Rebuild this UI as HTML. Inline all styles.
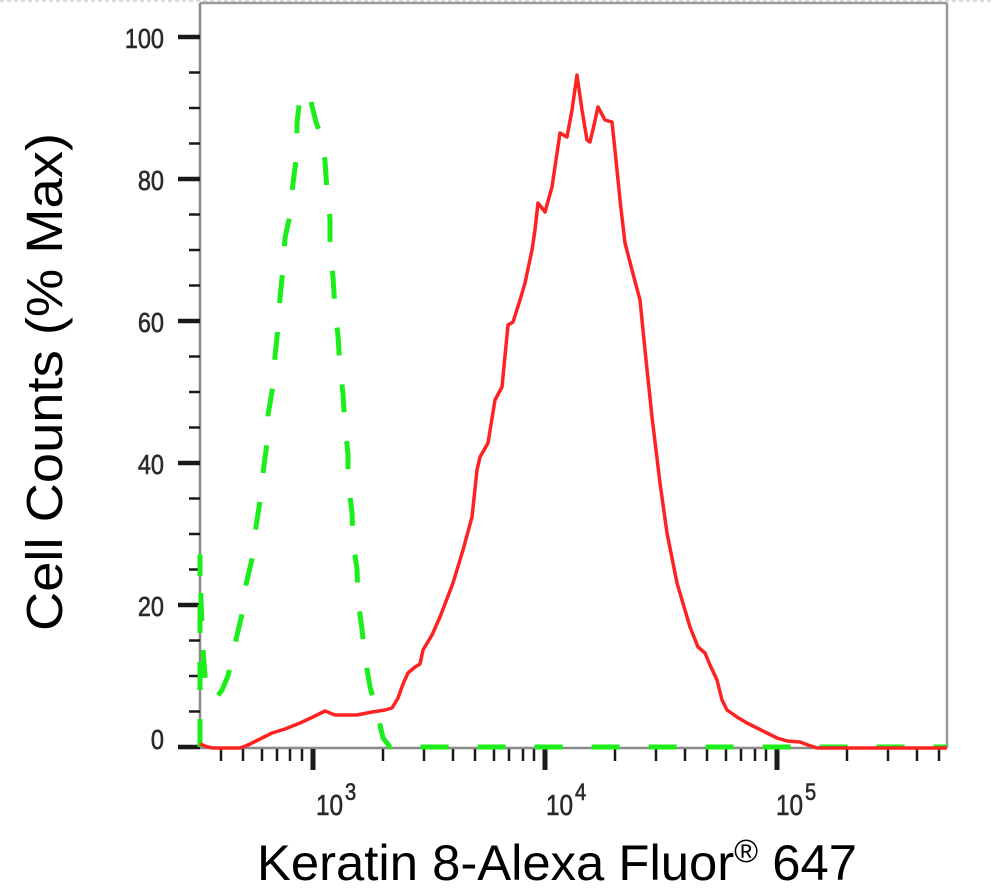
<!DOCTYPE html>
<html>
<head>
<meta charset="utf-8">
<style>
  html, body { margin: 0; padding: 0; background: #ffffff; }
  svg { display: block; }
</style>
</head>
<body>
<svg width="994" height="888" viewBox="0 0 994 888" xmlns="http://www.w3.org/2000/svg">
  <rect x="0" y="0" width="994" height="888" fill="#ffffff"/>
  <!-- light dotted top edge -->
  <line x1="0" y1="1" x2="994" y2="1" stroke="#cfcfcf" stroke-width="1.5" stroke-dasharray="4 3"/>

  <!-- plot frame -->
  <line x1="200" y1="3" x2="947" y2="3" stroke="#9a9a9a" stroke-width="2.5"/>
  <line x1="947" y1="3" x2="947" y2="748" stroke="#9a9a9a" stroke-width="2.5"/>
  <line x1="200" y1="3" x2="200" y2="748" stroke="#8a8a8a" stroke-width="2.5"/>
  <line x1="180" y1="748" x2="947" y2="748" stroke="#8a8a8a" stroke-width="2.5"/>

  <!-- Y ticks -->
  <g stroke="#1a1a1a">
    <line x1="178" y1="37" x2="200" y2="37" stroke-width="4.5"/>
    <line x1="178" y1="179" x2="200" y2="179" stroke-width="4.5"/>
    <line x1="178" y1="321" x2="200" y2="321" stroke-width="4.5"/>
    <line x1="178" y1="463" x2="200" y2="463" stroke-width="4.5"/>
    <line x1="178" y1="605" x2="200" y2="605" stroke-width="4.5"/>
    <line x1="178" y1="747" x2="200" y2="747" stroke-width="4.5"/>
    <g stroke-width="2.5">
      <line x1="189" y1="72.5" x2="200" y2="72.5"/>
      <line x1="189" y1="108" x2="200" y2="108"/>
      <line x1="189" y1="143.5" x2="200" y2="143.5"/>
      <line x1="189" y1="214.5" x2="200" y2="214.5"/>
      <line x1="189" y1="250" x2="200" y2="250"/>
      <line x1="189" y1="285.5" x2="200" y2="285.5"/>
      <line x1="189" y1="356.5" x2="200" y2="356.5"/>
      <line x1="189" y1="392" x2="200" y2="392"/>
      <line x1="189" y1="427.5" x2="200" y2="427.5"/>
      <line x1="189" y1="498.5" x2="200" y2="498.5"/>
      <line x1="189" y1="534" x2="200" y2="534"/>
      <line x1="189" y1="569.5" x2="200" y2="569.5"/>
      <line x1="189" y1="640.5" x2="200" y2="640.5"/>
      <line x1="189" y1="676" x2="200" y2="676"/>
      <line x1="189" y1="711.5" x2="200" y2="711.5"/>
    </g>
  </g>

  <!-- Y tick labels -->
  <g font-family="Liberation Sans, Arial, sans-serif" font-size="28" fill="#2a2a2a" stroke="#2a2a2a" stroke-width="0.6">
    <g transform="translate(164,48) scale(0.84,1)"><text text-anchor="end">100</text></g>
    <g transform="translate(164,190) scale(0.84,1)"><text text-anchor="end">80</text></g>
    <g transform="translate(164,332) scale(0.84,1)"><text text-anchor="end">60</text></g>
    <g transform="translate(164,474) scale(0.84,1)"><text text-anchor="end">40</text></g>
    <g transform="translate(164,616) scale(0.84,1)"><text text-anchor="end">20</text></g>
    <g transform="translate(164,749) scale(0.84,1)"><text text-anchor="end">0</text></g>
  </g>

  <!-- X ticks -->
  <g stroke="#1a1a1a">
    <line x1="313" y1="749" x2="313" y2="770" stroke-width="5"/>
    <line x1="545" y1="749" x2="545" y2="770" stroke-width="5"/>
    <line x1="777" y1="749" x2="777" y2="770" stroke-width="5"/>
    <g stroke-width="2.5">
      <line x1="221" y1="749" x2="221" y2="761"/>
      <line x1="243" y1="749" x2="243" y2="761"/>
      <line x1="262" y1="749" x2="262" y2="761"/>
      <line x1="277" y1="749" x2="277" y2="761"/>
      <line x1="290" y1="749" x2="290" y2="761"/>
      <line x1="302" y1="749" x2="302" y2="761"/>
      <line x1="383" y1="749" x2="383" y2="761"/>
      <line x1="424" y1="749" x2="424" y2="761"/>
      <line x1="453" y1="749" x2="453" y2="761"/>
      <line x1="475" y1="749" x2="475" y2="761"/>
      <line x1="494" y1="749" x2="494" y2="761"/>
      <line x1="509" y1="749" x2="509" y2="761"/>
      <line x1="523" y1="749" x2="523" y2="761"/>
      <line x1="534" y1="749" x2="534" y2="761"/>
      <line x1="615" y1="749" x2="615" y2="761"/>
      <line x1="656" y1="749" x2="656" y2="761"/>
      <line x1="685" y1="749" x2="685" y2="761"/>
      <line x1="707" y1="749" x2="707" y2="761"/>
      <line x1="726" y1="749" x2="726" y2="761"/>
      <line x1="741" y1="749" x2="741" y2="761"/>
      <line x1="755" y1="749" x2="755" y2="761"/>
      <line x1="766" y1="749" x2="766" y2="761"/>
      <line x1="847" y1="749" x2="847" y2="761"/>
      <line x1="888" y1="749" x2="888" y2="761"/>
      <line x1="917" y1="749" x2="917" y2="761"/>
      <line x1="939" y1="749" x2="939" y2="761"/>
    </g>
  </g>

  <!-- X tick labels -->
  <g font-family="Liberation Sans, Arial, sans-serif" fill="#2a2a2a" stroke="#2a2a2a" stroke-width="0.6">
    <g transform="translate(316,815) scale(0.84,1)"><text font-size="29">10</text></g>
    <g transform="translate(345,800) scale(0.84,1)"><text font-size="24">3</text></g>
    <g transform="translate(546,815) scale(0.84,1)"><text font-size="29">10</text></g>
    <g transform="translate(575,800) scale(0.84,1)"><text font-size="24">4</text></g>
    <g transform="translate(776,815) scale(0.84,1)"><text font-size="29">10</text></g>
    <g transform="translate(805,800) scale(0.84,1)"><text font-size="24">5</text></g>
  </g>

  <!-- green dashed control histogram -->
  <polyline fill="none" stroke="#1bee1b" stroke-width="5" stroke-linejoin="round"
    stroke-dasharray="28 29"
    points="200,747 200,556 201,600 203,650 206,688 212,698 217,697 222,690 228,676 235,644 242,614 245,589 252,559 255,533 260,501 263,473 267,443 268,415 273,386 275,356 278,328 280,298 283,268 285,238 290,215 293,183 297,153 297,123 300,97 305,91 310,97 313,110 316,122 320,133 325,161 327,191 330,219 330,251 333,277 335,309 338,336 340,366 343,394 345,426 348,454 348,482 352,512 353,542 357,569 358,601 362,629 365,657 370,687 377,712 383,738 390,747 947,747"/>

  <!-- red sample histogram -->
  <polyline fill="none" stroke="#ff2222" stroke-width="3.5" stroke-linejoin="round"
    points="200,744 205,746 212,748 240,748 248,745 260,739 272,733 285,729 300,723 315,716 325,711 330,713 335,715 357,715 372,712 385,710 392,708 398,698 403,684 408,673 415,667 420,664 423,650 432,635 440,617 453,583 463,550 472,517 477,470 480,457 488,443 495,400 502,387 508,325 513,322 520,300 525,283 532,250 535,230 538,203 545,212 552,187 560,133 567,137 572,110 577,75 582,110 587,140 590,142 594,125 598,107 605,120 612,122 616,160 620,200 625,243 632,270 640,300 645,350 652,417 660,483 667,533 677,583 690,627 698,647 705,653 710,665 717,680 722,700 727,710 737,717 747,723 757,728 767,733 777,738 787,741 800,742 808,745 817,748 947,748"/>

  <!-- axis titles -->
  <text x="557" y="880" font-family="Liberation Sans, Arial, sans-serif" font-size="50" fill="#000" text-anchor="middle" textLength="600" lengthAdjust="spacingAndGlyphs">Keratin 8-Alexa Fluor<tspan font-size="32" dy="-18">®</tspan><tspan dy="18"> 647</tspan></text>
  <text transform="translate(62,382) rotate(-90)" x="0" y="0" font-family="Liberation Sans, Arial, sans-serif" font-size="51" fill="#000" text-anchor="middle" textLength="498" lengthAdjust="spacingAndGlyphs">Cell Counts (% Max)</text>
</svg>
</body>
</html>
